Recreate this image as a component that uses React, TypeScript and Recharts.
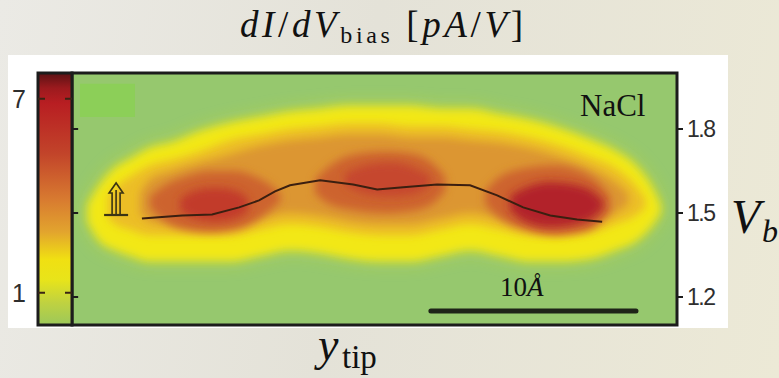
import React from "react";
import {
  ComposedChart,
  BarChart,
  Bar,
  Area,
  Line,
  XAxis,
  YAxis,
  CartesianGrid,
  ReferenceArea,
  ReferenceLine,
  ReferenceDot,
} from "recharts";

// tip position y_tip in Angstrom, bias V_b in volt: [x, lowV, highV]
const yellowBand = [
  [0.78, 1.47, 1.53], [1.37, 1.4, 1.6], [2.1, 1.37, 1.66], [2.83, 1.35, 1.69],
  [3.8, 1.33, 1.73], [4.88, 1.33, 1.75], [6.24, 1.33, 1.79], [7.71, 1.33, 1.82],
  [9.17, 1.35, 1.84], [10.63, 1.37, 1.86], [12.1, 1.36, 1.87], [13.56, 1.34, 1.88],
  [15.02, 1.33, 1.88], [16.49, 1.33, 1.88], [17.95, 1.35, 1.87], [19.41, 1.37, 1.87],
  [20.88, 1.35, 1.85], [22.34, 1.33, 1.83], [23.8, 1.33, 1.8], [25.27, 1.34, 1.76],
  [26.49, 1.37, 1.72], [27.46, 1.4, 1.67], [28.2, 1.45, 1.6], [28.68, 1.5, 1.53],
];

const goldBand = [
  [1.76, 1.48, 1.56], [2.1, 1.46, 1.59], [2.83, 1.44, 1.63], [3.8, 1.42, 1.67],
  [4.88, 1.42, 1.69], [6.24, 1.42, 1.72], [7.71, 1.42, 1.76], [9.17, 1.44, 1.78],
  [10.63, 1.46, 1.8], [12.1, 1.45, 1.81], [13.56, 1.43, 1.82], [15.02, 1.42, 1.82],
  [16.49, 1.42, 1.81], [17.95, 1.44, 1.81], [19.41, 1.46, 1.8], [20.88, 1.44, 1.79],
  [22.34, 1.42, 1.77], [23.8, 1.42, 1.74], [25.27, 1.43, 1.7], [26.49, 1.46, 1.66],
  [27.46, 1.49, 1.6], [27.95, 1.52, 1.55],
];

const orangeBand = [
  [3.32, 1.5, 1.57], [3.8, 1.47, 1.62], [4.88, 1.46, 1.65], [6.24, 1.46, 1.68],
  [7.71, 1.46, 1.71], [9.17, 1.48, 1.74], [10.63, 1.5, 1.76], [12.1, 1.49, 1.77],
  [13.56, 1.47, 1.78], [15.02, 1.46, 1.78], [16.49, 1.46, 1.77], [17.95, 1.48, 1.77],
  [19.41, 1.5, 1.76], [20.88, 1.48, 1.75], [22.34, 1.46, 1.73], [23.8, 1.46, 1.7],
  [25.27, 1.47, 1.66], [26.49, 1.5, 1.61], [27.12, 1.53, 1.57],
];

const deepLobes = [
  [[3.8, 1.52, 1.56], [4.54, 1.47, 1.6], [5.51, 1.44, 1.63], [6.73, 1.43, 1.65],
   [7.95, 1.44, 1.65], [8.93, 1.47, 1.63], [9.66, 1.51, 1.6], [10.15, 1.54, 1.57]],
  [[11.85, 1.57, 1.62], [12.59, 1.53, 1.67], [13.8, 1.51, 1.71], [15.27, 1.5, 1.72],
   [16.73, 1.51, 1.71], [17.71, 1.54, 1.67], [18.2, 1.58, 1.63]],
  [[20.15, 1.53, 1.58], [20.88, 1.48, 1.63], [22.1, 1.44, 1.66], [23.56, 1.42, 1.67],
   [24.78, 1.43, 1.65], [25.66, 1.46, 1.61], [26.24, 1.51, 1.56]],
];

const redCores = [
  [[5.27, 1.51, 1.55], [6.0, 1.48, 1.58], [6.98, 1.47, 1.59], [7.95, 1.48, 1.58], [8.59, 1.51, 1.55]],
  [[13.32, 1.6, 1.64], [14.29, 1.57, 1.67], [15.51, 1.56, 1.68], [16.73, 1.57, 1.66], [17.46, 1.6, 1.63]],
  [[21.37, 1.51, 1.56], [22.1, 1.47, 1.59], [23.32, 1.45, 1.61], [24.54, 1.46, 1.6],
   [25.51, 1.49, 1.57], [25.9, 1.52, 1.54]],
];
const coreColors = ["#c23a2c", "#c6462f", "#b2242a"];

// tip trajectory
const pathX = [3.41, 5.37, 6.83, 8.15, 9.12, 9.9, 10.63, 12.1, 13.71, 14.88, 16.15, 17.8, 19.41, 20.73, 22.0, 23.32, 24.63, 25.85];
const pathV = [1.48, 1.491, 1.495, 1.52, 1.545, 1.577, 1.599, 1.617, 1.602, 1.584, 1.592, 1.602, 1.599, 1.563, 1.52, 1.491, 1.477, 1.469];

const biasTicks = [1.2, 1.5, 1.8];
const biasDomain = [1.1, 2.0];
const yTipDomain = [0, 29.5];
const scaleBarStart = 17.5;
const scaleBarLength = 10;
const tipMark = { x: 2.15, v: 1.55 };

const colorbarTicks = [1, 7];
const colorbarMax = 7.8;

const toRows = (rows: number[][]) => rows.map(([x, lo, hi]) => ({ x, v: [lo, hi] }));
const trajectory = pathX.map((x, i) => ({ x, v: pathV[i] }));

const TipMarker = (props: any) => {
  const { cx, cy } = props;
  return (
    <g stroke="#3b3414" strokeWidth={1.6} fill="none">
      <path
        d={`M${cx - 4},${cy + 15} L${cx - 4},${cy - 6} L${cx - 7},${cy - 6} L${cx},${cy - 16} L${cx + 7},${cy - 6} L${cx + 4},${cy - 6} L${cx + 4},${cy + 15}`}
      />
      <line x1={cx} y1={cy - 9} x2={cx} y2={cy + 15} />
      <line x1={cx - 12} y1={cy + 16} x2={cx + 12} y2={cy + 16} strokeWidth={2.2} />
    </g>
  );
};

const blur = "url(#soft)";

const Colorbar = () => (
  <BarChart
    width={80}
    height={378}
    data={[{ name: "scale", value: colorbarMax }]}
    margin={{ top: 73, bottom: 53, left: 8, right: 8 }}
    barCategoryGap={0}
  >
    <defs>
      <linearGradient id="cbGrad" x1="0" y1="0" x2="0" y2="1">
        <stop offset="0" stopColor="#5a1214" />
        <stop offset="0.06" stopColor="#9c1a1e" />
        <stop offset="0.12" stopColor="#b81e22" />
        <stop offset="0.32" stopColor="#c2442a" />
        <stop offset="0.5" stopColor="#d87a30" />
        <stop offset="0.63" stopColor="#e2a42e" />
        <stop offset="0.74" stopColor="#f0e012" />
        <stop offset="0.82" stopColor="#e8e41a" />
        <stop offset="0.91" stopColor="#c0d240" />
        <stop offset="1" stopColor="#9cc85a" />
      </linearGradient>
    </defs>
    <XAxis dataKey="name" hide />
    <YAxis
      domain={[0, colorbarMax]}
      ticks={colorbarTicks}
      width={30}
      axisLine={false}
      tickLine={false}
      tickSize={8}
      tickMargin={4}
      tick={{ fontSize: 25, fill: "#2e2e2e", fontFamily: "Liberation Sans" }}
    />
    <Bar dataKey="value" fill="url(#cbGrad)" stroke="#1c1c1c" strokeWidth={3} isAnimationActive={false} />
    {colorbarTicks.map((t) => (
      <ReferenceLine key={t} y={t} stroke="#3a2414" strokeWidth={2} strokeDasharray="7 20 7" />
    ))}
  </BarChart>
);

const Heatmap = () => (
  <ComposedChart width={779} height={378} margin={{ top: 73, bottom: 53, left: 72, right: 42 }}>
    <defs>
      <filter id="soft" x="-30%" y="-80%" width="160%" height="260%">
        <feGaussianBlur stdDeviation="4.5" />
      </filter>
      <filter id="halo" x="-30%" y="-80%" width="160%" height="260%">
        <feGaussianBlur stdDeviation="9" />
      </filter>
    </defs>
    <CartesianGrid fill="#96c86e" horizontal={false} vertical={false} />
    <XAxis type="number" dataKey="x" domain={yTipDomain} hide allowDataOverflow />
    <YAxis
      orientation="right"
      domain={biasDomain}
      ticks={biasTicks}
      width={60}
      axisLine={false}
      tickSize={6}
      tickMargin={4}
      tickLine={{ stroke: "#1c1c1c", strokeWidth: 2 }}
      tick={{ fontSize: 23, fill: "#2e2e2e", fontFamily: "Liberation Sans", letterSpacing: -1.5 }}
      allowDataOverflow
    />
    <Area data={toRows(yellowBand)} dataKey="v" type="monotone" fill="#d6dc30" fillOpacity={0.7} stroke="none" filter="url(#halo)" isAnimationActive={false} />
    <Area data={toRows(yellowBand)} dataKey="v" type="monotone" fill="#f2e812" fillOpacity={1} stroke="none" filter={blur} isAnimationActive={false} />
    <Area data={toRows(goldBand)} dataKey="v" type="monotone" fill="#ecbe28" fillOpacity={1} stroke="none" filter={blur} isAnimationActive={false} />
    <Area data={toRows(orangeBand)} dataKey="v" type="monotone" fill="#dc9632" fillOpacity={1} stroke="none" filter={blur} isAnimationActive={false} />
    {deepLobes.map((lobe, i) => (
      <Area key={`d${i}`} data={toRows(lobe)} dataKey="v" type="monotone" fill="#cd642d" fillOpacity={1} stroke="none" filter={blur} isAnimationActive={false} />
    ))}
    {redCores.map((core, i) => (
      <Area key={`r${i}`} data={toRows(core)} dataKey="v" type="monotone" fill={coreColors[i]} fillOpacity={1} stroke="none" filter={blur} isAnimationActive={false} />
    ))}
    <Line data={trajectory} dataKey="v" type="linear" stroke="#3b1f10" strokeWidth={2} dot={false} isAnimationActive={false} />
    <ReferenceArea x1={0.39} x2={3.07} y1={1.843} y2={1.962} fill="#8ccf58" fillOpacity={1} stroke="none" />
    {biasTicks.map((t) => (
      <ReferenceLine key={t} segment={[{ x: 0, y: t }, { x: 0.3, y: t }]} stroke="#1c1c1c" strokeWidth={2} />
    ))}
    <ReferenceLine
      segment={[{ x: scaleBarStart, y: 1.15 }, { x: scaleBarStart + scaleBarLength, y: 1.15 }]}
      stroke="#1e2418"
      strokeWidth={5}
      strokeLinecap="round"
    />
    <ReferenceDot x={tipMark.x} y={tipMark.v} r={0} shape={TipMarker} />
    <ReferenceArea x1={yTipDomain[0]} x2={yTipDomain[1]} y1={biasDomain[0]} y2={biasDomain[1]} fill="none" stroke="#1c1c1c" strokeWidth={3} />
  </ComposedChart>
);

const serif = "Liberation Serif";

export default function App() {
  return (
    <div
      style={{
        position: "absolute",
        left: 0,
        top: 0,
        width: 779,
        height: 378,
        overflow: "hidden",
        background: "linear-gradient(100deg, #ebeae5 0%, #e4e2d8 45%, #ece9d6 100%)",
      }}
    >
      <div style={{ position: "absolute", left: 8, top: 55, width: 720, height: 273, background: "#ffffff" }} />
      <div style={{ position: "absolute", left: 0, top: 0 }}>
        <Heatmap />
      </div>
      <div style={{ position: "absolute", left: 0, top: 0 }}>
        <Colorbar />
      </div>
      <svg width={779} height={378} style={{ position: "absolute", left: 0, top: 0, pointerEvents: "none" }}>
        <text x={240} y={37} fontFamily={serif} fontSize={37} fill="#111" textLength={283} lengthAdjust="spacing">
          <tspan fontStyle="italic">dI</tspan>/<tspan fontStyle="italic">dV</tspan>
          <tspan fontSize={24} dy={6}>bias</tspan>
          <tspan dy={-6}> [</tspan>
          <tspan fontStyle="italic">pA</tspan>/<tspan fontStyle="italic">V</tspan>]
        </text>
        <text x={580} y={116} fontFamily={serif} fontSize={31} fill="#111">NaCl</text>
        <text x={500} y={296} fontFamily={serif} fontSize={27} fill="#111">
          10<tspan fontStyle="italic">Å</tspan>
        </text>
        <text x={731} y={233} fontFamily={serif} fontSize={48} fontStyle="italic" fill="#111">V</text>
        <text x={762} y={242} fontFamily={serif} fontSize={32} fontStyle="italic" fill="#111">b</text>
        <text x={318} y={360} fontFamily={serif} fontSize={46} fontStyle="italic" fill="#111">y</text>
        <text x={342} y={368} fontFamily={serif} fontSize={33} fill="#111">tip</text>
      </svg>
    </div>
  );
}
